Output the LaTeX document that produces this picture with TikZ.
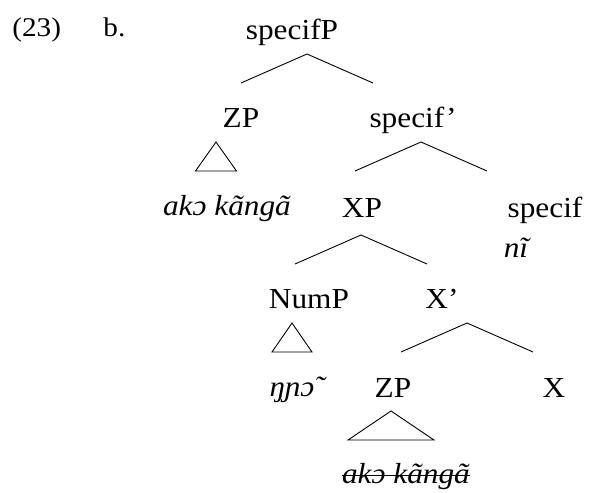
\documentclass[tikz,border=0pt]{standalone}
\usepackage{fontspec}
\setmainfont{Liberation Serif}[FakeStretch=1.08]
\begin{document}
\begin{tikzpicture}[x=1pt,y=-1pt,line width=0.9pt,
  lbl/.style={anchor=base,inner sep=0pt,font=\fontsize{29}{34}\selectfont},
  ilbl/.style={anchor=base,inner sep=0pt,font=\fontsize{29}{34}\selectfont\itshape}]
  \useasboundingbox (0,0) rectangle (590,493);
  % example number
  \node[lbl,anchor=base west,font=\fontsize{27}{31}\selectfont] (exno) at (12,36) {(23)};
  \node[lbl,anchor=base west,font=\fontsize{27}{31}\selectfont] (exsub) at (103,36) {b.};
  % labels
  \node[lbl] (specifP) at (292,39) {specifP};
  \node[lbl] (zp1) at (241,127) {ZP};
  \node[lbl] (specifbar) at (413,127) {specif’};
  \node[ilbl] (ako1) at (227,215) {akɔ kãngã};
  \node[lbl] (xp) at (362,217) {XP};
  \node[lbl] (specif) at (545,217) {specif};
  \node[ilbl] (ni) at (516,257) {nĩ};
  \node[lbl] (nump) at (309,308) {NumP};
  \node[lbl] (xbar) at (442,308) {X’};
  \node[ilbl] (nno) at (292,396) {ŋɲɔ̃};
  \node[lbl] (zp2) at (393,397) {ZP};
  \node[lbl] (x) at (554,397) {X};
  \node[ilbl] (ako2) at (406,483) {akɔ kãngã};
  \draw ([yshift=8pt]ako2.base west) -- ([yshift=8pt]ako2.base east);
  % branches
  \foreach \n/\x/\y in {sP/307/54, sB/421/142, xP/361/235, xB/467/323}{
    \coordinate (\n-top) at (\x,\y);
    \coordinate (\n-l) at (\x-66,\y+29);
    \coordinate (\n-r) at (\x+66,\y+29);
    \draw (\n-l) -- (\n-top) -- (\n-r);
  }
  % triangles
  \foreach \n/\x/\y/\w in {t1/216/142/20.5, t2/292/323/20, t3/391/411/43}{
    \coordinate (\n-top) at (\x,\y);
    \coordinate (\n-l) at (\x-\w,\y+29);
    \coordinate (\n-r) at (\x+\w,\y+29);
    \draw (\n-top) -- (\n-l) -- (\n-r) -- cycle;
  }
\end{tikzpicture}
\end{document}
